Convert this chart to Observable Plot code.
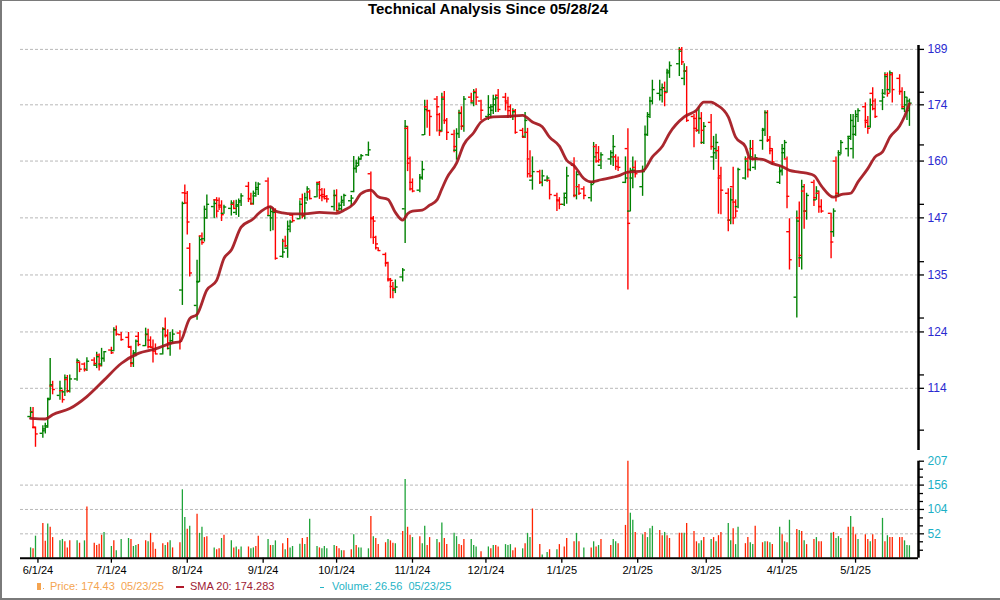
<!DOCTYPE html>
<html>
<head>
<meta charset="utf-8">
<script src="https://cdn.jsdelivr.net/npm/d3@7"></script>
<script src="https://cdn.jsdelivr.net/npm/@observablehq/plot@0.6"></script>
<style>
  html, body { margin: 0; padding: 0; background: #fff; }
  #wrap { position: relative; width: 1000px; height: 600px; overflow: hidden; font-family: "Liberation Sans", Arial, sans-serif; }
  #wrap > div.abs, #wrap > svg { position: absolute; }
  .frame { position: absolute; left: 0; top: 0; width: 1000px; height: 600px; box-sizing: border-box;
           border-left: 2px solid #7a7a7a; border-top: 1px solid #7a7a7a; border-bottom: 2px solid #7a7a7a; pointer-events: none; }
  #title { position: absolute; left: 0; top: 0; width: 976px; text-align: center; font-weight: bold; font-size: 15px; line-height: 18px; color: #000; }
  .leg { position: absolute; top: 580px; font-size: 11px; line-height: 13px; white-space: pre; }
</style>
</head>
<body>
<div id="wrap">
  <div id="title">Technical Analysis Since 05/28/24</div>
  <div class="frame"></div>
</div>
<script>
// ---------------- data ----------------
const xDomain = ["2024-05-24T21:00:00Z", "2025-05-26T17:00:00Z"];
const firstDay = "2024-05-29", lastDay = "2025-05-23";
const holidays = ["2024-06-19","2024-07-04","2024-09-02","2024-11-28","2024-12-25",
                  "2025-01-01","2025-01-09","2025-01-20","2025-02-17","2025-04-18"];

// [open, high, low, close] for each trading day
const ohlc = [
  // May 2024
  [109.3,110.8,108.9,110.0],[110.1,110.8,107.4,107.6],[107.5,107.6,104.4,106.5],
  // June 2024
  [106.6,107.8,105.8,107.3],[107.0,108.2,106.5,107.6],[107.8,112.3,107.4,112.1],[112.3,119.2,112.0,114.6],[114.4,115.2,112.9,113.8],
  [112.8,115.2,112.0,114.0],[113.6,113.7,111.5,112.1],[113.4,116.3,112.6,115.8],[115.5,116.2,113.2,113.5],[113.6,116.3,113.2,115.6],
  [115.6,119.1,115.2,118.8],[118.5,118.6,116.7,117.3],[118.2,118.4,116.8,117.2],[117.3,119.3,116.9,118.7],
  [118.9,119.3,117.9,118.3],[118.0,120.3,117.4,119.5],[119.8,120.0,117.0,117.9],[118.2,121.0,117.7,119.2],[119.2,120.4,118.5,120.4],
  // July 2024
  [120.7,121.2,119.9,120.2],[120.6,124.8,120.4,124.4],[124.4,125.1,123.2,123.6],[123.5,123.9,122.3,122.6],
  [123.0,123.9,121.1,121.2],[121.3,121.4,117.6,118.3],[118.4,120.6,117.6,120.2],[120.0,122.5,119.5,122.3],[123.2,123.9,121.3,121.7],
  [121.5,124.7,121.3,123.6],[123.5,124.5,120.9,121.3],[122.5,123.1,121.0,121.2],[121.2,122.5,118.4,120.5],[120.9,121.8,119.9,120.0],
  [120.0,124.8,119.8,124.5],[124.6,126.6,122.9,123.3],[123.4,124.4,120.7,122.0],[121.0,123.9,119.6,122.4],[122.0,124.4,121.8,123.6],
  [123.8,124.2,120.7,122.3],[132.0,150.5,129.0,150.2],[152.6,154.4,150.0,150.3],
  // August 2024
  [152.5,152.9,143.3,146.1],[140.5,141.5,134.6,135.4],
  [129.0,138.0,126.2,133.6],[133.7,143.0,133.5,142.3],[143.1,143.7,141.1,141.7],[142.5,149.6,141.8,148.9],[147.0,152.1,146.7,150.0],
  [149.5,151.0,146.8,150.2],[151.0,151.5,147.0,148.5],[150.9,151.4,148.6,149.4],[149.8,150.8,146.2,147.7],[148.0,149.8,147.8,149.4],
  [149.1,150.8,147.4,150.3],[150.0,150.8,148.8,149.1],[148.2,150.9,147.5,149.9],[149.6,151.2,147.1,150.8],[150.5,152.4,149.5,151.9],
  [154.1,155.0,150.4,151.2],[151.3,152.5,149.8,150.1],[150.2,153.0,149.8,152.5],[151.9,155.0,151.6,153.8],[153.4,154.9,152.0,154.6],
  // September 2024
  [155.3,156.0,147.3,149.4],[147.5,149.4,144.0,148.4],[147.0,149.2,144.2,148.2],[148.4,149.0,138.0,138.4],
  [138.8,142.4,138.4,139.7],[142.0,143.0,140.6,141.0],[140.5,146.3,138.4,145.2],[144.5,146.5,143.8,146.1],[147.6,147.8,145.9,146.4],
  [146.8,150.8,146.6,150.0],[151.2,152.3,146.8,147.4],[147.5,152.5,146.6,150.3],[151.5,154.0,150.7,153.5],[152.8,153.2,151.0,151.3],
  [151.7,154.9,151.5,154.6],[155.0,155.2,151.1,152.0],[153.3,153.6,150.6,151.7],[152.2,153.5,151.0,151.3],[151.8,152.0,150.3,151.2],
  [149.5,153.2,148.5,152.0],
  // October 2024
  [152.0,153.3,148.4,148.5],[148.6,150.3,148.5,149.8],[149.0,151.8,148.5,150.9],[150.5,152.3,149.5,152.0],
  [150.8,152.0,149.5,151.4],[152.9,161.1,152.6,158.3],[158.2,160.2,157.1,159.5],[158.8,161.0,158.7,160.5],[160.5,161.6,160.2,161.3],
  [161.5,164.6,161.1,162.7],[157.0,157.4,142.5,146.8],[147.0,147.3,141.3,146.3],[142.8,143.0,140.1,141.4],[140.6,140.6,139.8,140.0],
  [139.2,139.5,136.6,137.5],[137.4,137.6,133.6,134.0],[134.2,134.3,130.3,133.9],[132.7,133.5,130.3,132.3],[132.0,134.0,131.3,132.6],
  [134.6,136.3,133.6,136.0],[149.0,170.0,141.5,168.5],[168.0,168.5,157.5,160.6],[159.5,161.0,153.0,153.5],
  // November 2024
  [155.0,155.8,152.6,153.0],
  [153.2,156.8,152.6,156.2],[156.0,159.9,155.5,158.0],[166.4,175.2,166.2,172.8],[173.5,175.2,168.0,172.5],[172.5,172.6,166.0,171.0],
  [175.5,176.2,167.1,173.5],[171.5,171.8,166.0,167.2],[167.5,177.0,167.0,175.5],[176.0,177.5,169.0,170.0],[170.0,170.5,165.0,167.0],
  [166.5,167.5,162.0,163.5],[162.6,167.9,160.2,166.7],[166.7,172.6,165.5,171.8],[172.0,173.5,167.5,168.6],[168.5,176.2,167.0,175.5],
  [176.0,177.0,174.5,175.0],[174.5,178.0,173.5,177.2],[177.5,178.2,173.8,176.0],[175.0,175.2,170.0,172.6],
  // December 2024
  [171.0,176.4,170.0,173.3],[171.5,174.0,170.5,173.5],[172.6,176.5,171.5,175.5],[174.0,176.5,172.0,175.8],[176.5,178.0,172.0,172.8],
  [176.0,177.0,172.4,174.5],[175.0,176.0,170.5,172.5],[173.5,174.0,170.5,171.0],[171.0,173.0,170.0,172.2],[172.5,172.8,166.5,167.0],
  [167.5,168.0,165.5,165.8],[166.0,172.0,165.5,170.0],[167.0,168.0,156.0,157.0],[160.5,162.5,156.0,156.5],[155.5,161.0,153.2,157.5],
  [157.5,157.8,154.5,155.0],[155.0,157.8,154.0,156.5],[155.5,156.5,155.0,156.0],[155.5,155.5,151.0,152.2],
  [152.0,152.5,148.4,150.8],[151.0,151.5,148.8,150.0],
  // January 2025
  [150.0,152.3,149.5,151.5],[152.5,158.5,150.0,156.5],
  [159.0,160.8,151.5,152.0],[152.0,157.5,151.0,156.8],[154.0,154.5,152.0,152.5],[153.5,154.0,151.0,152.0],
  [151.5,155.0,150.5,154.5],[155.0,164.5,154.5,161.0],[163.5,164.0,159.5,160.0],[162.0,163.5,159.5,160.3],[159.0,162.0,158.0,161.5],
  [160.5,162.5,159.0,162.0],[161.0,166.2,158.7,163.5],[161.0,161.5,157.8,158.7],[160.0,161.0,157.5,158.5],
  [155.0,161.0,154.7,156.0],[163.0,167.9,132.0,145.8],[148.5,158.3,148.3,157.8],[156.0,161.0,153.5,157.8],[158.5,160.0,156.0,157.0],
  // February 2025
  [154.0,158.8,151.8,157.5],[158.0,168.6,157.8,166.4],[166.5,172.0,166.0,171.5],[171.0,176.0,170.5,175.0],[175.0,180.5,174.0,178.0],
  [177.0,180.5,175.0,178.0],[176.5,179.5,174.5,178.5],[178.5,180.0,173.5,177.2],[177.5,183.5,177.0,183.0],[182.5,185.5,181.0,184.5],
  [185.0,189.5,181.5,188.5],[189.0,189.5,184.5,185.5],[181.0,185.0,179.0,183.0],[183.0,184.2,169.5,170.0],
  [171.0,171.5,163.2,168.0],[170.5,172.5,167.0,167.5],[167.5,173.5,166.5,170.5],[170.5,172.0,164.0,167.5],[164.5,169.5,164.0,168.5],
  // March 2025
  [169.5,171.5,162.6,163.5],[161.0,166.0,157.8,163.0],[162.0,166.5,160.4,164.5],[162.5,163.5,147.8,156.5],[156.0,158.5,147.7,153.2],
  [152.5,153.5,144.0,146.5],[146.5,153.5,145.5,151.0],[154.0,158.5,145.5,147.0],[150.5,151.0,147.0,148.5],[149.5,158.3,149.0,158.0],
  [156.0,161.0,155.5,160.0],[160.5,161.0,156.0,158.0],[158.0,165.0,157.5,161.0],[163.0,165.0,160.0,160.5],[158.5,161.5,157.8,160.8],
  [165.0,168.0,162.6,167.8],[167.5,172.5,166.0,172.0],[172.0,172.5,164.5,165.2],[165.0,166.0,161.5,163.0],[162.5,163.0,159.0,159.8],
  [155.0,158.8,154.5,157.8],
  // April 2025
  [157.5,164.0,156.5,163.0],[162.0,165.0,160.5,164.5],[160.5,161.0,149.0,151.8],[144.0,146.8,136.0,138.1],
  [130.6,148.5,126.6,146.3],[147.0,150.5,136.5,139.0],[138.5,155.5,136.0,154.0],[153.0,154.5,144.5,148.5],[148.5,152.5,146.5,152.0],
  [155.0,155.5,149.5,151.5],[151.0,154.0,150.9,153.0],[152.5,153.0,148.0,149.5],[149.5,151.0,148.0,148.5],
  [148.0,148.0,138.3,141.8],[144.0,149.0,142.8,148.5],[160.0,161.0,150.5,152.5],[152.0,162.5,151.5,161.5],[162.0,165.0,161.5,164.5],
  [163.0,166.0,161.0,165.5],[166.0,171.5,165.0,170.0],[163.0,171.5,160.5,168.5],
  // May 2025
  [166.5,172.5,166.0,171.5],[171.0,173.0,169.5,172.5],
  [173.5,174.5,168.0,169.5],[170.0,171.0,166.5,168.0],[168.5,175.5,168.0,174.0],[177.0,178.5,172.5,173.0],[175.0,175.5,170.5,171.0],
  [175.0,178.0,172.5,176.0],[177.0,182.5,176.5,181.5],[182.0,182.5,176.0,177.0],[178.0,183.0,177.0,182.5],[182.0,182.5,174.5,178.0],
  [181.0,182.0,176.5,177.5],[177.5,178.5,173.0,173.5],[173.0,177.5,172.0,176.0],[174.0,176.0,170.0,175.0],[172.5,175.5,168.5,174.43]
];

const volume = [
  22,20,47,
  74,36,73,66,44,37,40,35,22,37,37,32,37,109,32,27,30,49,55,
  25,37,16,40,42,40,25,27,29,37,35,53,33,19,31,27,33,37,22,33,146,87,
  62,68,94,53,66,44,46,22,18,20,42,49,37,22,24,18,24,24,20,22,25,47,
  40,27,27,37,31,18,42,22,25,30,42,29,44,83,25,22,20,25,20,27,
  25,20,16,16,18,50,27,22,22,20,89,46,42,29,33,40,37,32,31,57,168,66,49,
  44,46,31,68,27,44,40,33,75,42,29,53,46,29,27,40,40,27,24,14,
  24,20,27,27,24,29,27,29,16,22,20,31,53,44,105,29,7,12,18,18,29,
  24,42,35,53,35,22,22,35,24,27,40,27,40,35,31,70,207,96,81,55,
  50,55,44,63,68,59,48,55,48,42,53,53,53,74,57,35,31,37,44,
  40,44,35,48,55,74,37,63,29,66,31,44,33,29,68,33,35,35,33,29,66,
  50,35,33,81,61,59,57,37,29,40,44,35,35,53,55,42,46,42,66,89,66,
  50,40,50,40,35,50,40,85,35,48,44,44,44,44,37,27,26.56
];

// volume bar colour per day: g = green, r = red
const volumeColour = [
  "grg", "rrgrrggrrrgrgrrrrrg", "grgggrggrrgrrrrgrgrrgg", "rgrggrrgrrgrgrgrgrggrr",
  "grggrgrgggrgrggrgggg", "rrgrrgrgggrgrrrgrrgrgrr", "grggrrgrgrrggrrrgggr",
  "grgrrgggrrgrggrrggrgr", "rrrgrgrgrgrrggrrrggr", "grgggrrgrrrrgrrrggr",
  "grgrrggrggrrggrrgrgrg", "rgrgrgrgrrgrrgrggrrgr", "rgrrgrrgrgrrrrggg"
].join("");

const smaDates = [
  "2024-05-29","2024-06-04","2024-06-07","2024-06-14","2024-06-21","2024-06-28","2024-07-05","2024-07-12","2024-07-19",
  "2024-07-26","2024-07-29","2024-08-02","2024-08-05","2024-08-09","2024-08-13","2024-08-16","2024-08-19","2024-08-23",
  "2024-08-28","2024-08-30","2024-09-04","2024-09-06","2024-09-09","2024-09-13","2024-09-18","2024-09-24","2024-10-01",
  "2024-10-04","2024-10-08","2024-10-11","2024-10-15","2024-10-18","2024-10-22","2024-10-25","2024-10-28","2024-10-30",
  "2024-11-01","2024-11-05","2024-11-08","2024-11-11","2024-11-13","2024-11-15","2024-11-19","2024-11-22","2024-11-26",
  "2024-11-29","2024-12-04","2024-12-10","2024-12-16","2024-12-20","2024-12-24","2024-12-27","2024-12-31","2025-01-03",
  "2025-01-06","2025-01-10","2025-01-13","2025-01-17","2025-01-22","2025-01-24","2025-01-28","2025-02-03","2025-02-07",
  "2025-02-11","2025-02-14","2025-02-20","2025-02-25","2025-02-28","2025-03-03","2025-03-05","2025-03-10","2025-03-13",
  "2025-03-17","2025-03-19","2025-03-24","2025-03-28","2025-04-01","2025-04-04","2025-04-08","2025-04-14","2025-04-17",
  "2025-04-22","2025-04-25","2025-04-29","2025-05-02","2025-05-06","2025-05-09","2025-05-12","2025-05-15","2025-05-19",
  "2025-05-21","2025-05-23"
];
const smaValues = [
  109.0,108.9,109.6,110.6,112.6,115.4,118.3,120.1,120.9,
  122.0,122.2,126.5,127.3,132.0,133.9,138.4,140.1,145.0,
  146.8,147.9,149.5,148.5,148.1,147.9,147.9,148.2,148.0,
  148.7,150.1,152.4,153.2,151.7,151.1,148.2,146.5,147.9,
  148.5,148.7,149.8,151.0,153.5,156.0,159.5,164.0,166.9,
  169.6,170.9,171.0,171.3,169.6,168.4,165.8,163.6,160.2,
  158.9,155.9,155.1,155.6,156.2,156.5,157.4,157.6,161.0,
  163.5,166.8,170.9,172.6,174.7,174.7,174.1,170.9,165.8,
  163.5,160.6,160.4,159.4,158.7,157.8,157.4,156.6,154.2,
  151.6,152.2,152.5,155.1,158.2,161.0,162.2,165.8,168.6,
  171.0,174.28
];

const priceTicks = [114, 124, 135, 147, 160, 174, 189];
const priceMinorTicks = [107.1, 116.3, 126.6, 137.7, 150.0, 163.9, 177.3];
const volumeTicks = [52, 104, 156, 207];
const volumeGrid = [52, 104, 156];
const volumeMinorTicks = [17, 35, 69, 86, 121, 138, 173, 190];
const monthTicks = ["2024-06-01","2024-07-01","2024-08-01","2024-09-01","2024-10-01","2024-11-01","2024-12-01",
                    "2025-01-01","2025-02-01","2025-03-01","2025-04-01","2025-05-01"];

// ---------------- build ----------------
const fmtDay = d3.utcFormat("%Y-%m-%d");
const dates = d3.utcDay.range(new Date(firstDay), d3.utcDay.offset(new Date(lastDay), 1))
  .filter(d => d.getUTCDay() !== 0 && d.getUTCDay() !== 6 && !holidays.includes(fmtDay(d)));
if (dates.length !== ohlc.length || dates.length !== volume.length || dates.length !== volumeColour.length)
  console.error("length mismatch", dates.length, ohlc.length, volume.length, volumeColour.length);
const n = Math.min(dates.length, ohlc.length, volume.length, volumeColour.length);
const rows = d3.range(n).map(i => ({
  date: dates[i], open: ohlc[i][0], high: ohlc[i][1], low: ohlc[i][2], close: ohlc[i][3],
  volume: volume[i], volUp: volumeColour[i] === "g"
}));
rows.forEach(r => r.up = r.close >= r.open);
const sma = smaDates.map((d, i) => ({date: new Date(d), value: smaValues[i]}));

const GREEN = "#008000", RED = "#ff0000", VGREEN = "#1fa43a", VRED = "#ff2400";
const xd = xDomain.map(d => new Date(d));
const xEnd = xd[1];
const tickHalf = 27; // hours either side of the bar for open/close ticks
const font = '"Liberation Sans", Arial, sans-serif';
const baseStyle = {fontFamily: font, fontSize: "12px", background: "transparent", overflow: "visible", color: "#000"};

const priceChart = Plot.plot({
  width: 1000, height: 452,
  marginTop: 45, marginBottom: 2, marginLeft: 20, marginRight: 82,
  style: baseStyle,
  x: {type: "utc", domain: xd, axis: null},
  y: {type: "log", domain: [103.9, 190.1], axis: null},
  marks: [
    Plot.ruleY(priceTicks, {stroke: "#b8b8b8", strokeDasharray: "3,2", strokeWidth: 1}),
    Plot.ruleX(rows, {x: "date", y1: "low", y2: "high", stroke: d => d.up ? GREEN : RED, strokeWidth: 1.4}),
    Plot.ruleY(rows, {y: "open", x1: d => d3.utcHour.offset(d.date, -tickHalf), x2: "date", stroke: d => d.up ? GREEN : RED, strokeWidth: 1.4}),
    Plot.ruleY(rows, {y: "close", x1: "date", x2: d => d3.utcHour.offset(d.date, tickHalf), stroke: d => d.up ? GREEN : RED, strokeWidth: 1.4}),
    Plot.line(sma, {x: "date", y: "value", stroke: "#a3151c", strokeWidth: 2.8, strokeOpacity: 0.92, curve: "monotone-x"}),
    Plot.ruleX([xEnd], {stroke: "#000", strokeWidth: 2.5}),
    Plot.axisY(priceTicks, {anchor: "right", tickSize: 5, tickPadding: 4, stroke: "#000", strokeWidth: 1.3,
      fill: "#2a2ad0", fontSize: 12, tickFormat: d => String(d), label: null}),
    Plot.axisY(priceMinorTicks, {anchor: "right", tickSize: 5, stroke: "#000", strokeWidth: 1.3, tickFormat: () => "", label: null})
  ]
});

const volumeChart = Plot.plot({
  width: 1000, height: 160,
  marginTop: 20.7, marginBottom: 42.3, marginLeft: 20, marginRight: 82,
  style: baseStyle,
  x: {type: "utc", domain: xd, axis: null},
  y: {domain: [0, 207], axis: null},
  marks: [
    Plot.ruleY(volumeGrid, {stroke: "#b8b8b8", strokeDasharray: "3,2", strokeWidth: 1}),
    Plot.ruleX(rows, {x: "date", y1: 0, y2: "volume", stroke: d => d.volUp ? VGREEN : VRED, strokeWidth: 1.3}),
    Plot.ruleY([0], {stroke: "#000", strokeWidth: 2}),
    Plot.ruleX([xEnd], {stroke: "#000", strokeWidth: 2.5}),
    Plot.axisY(volumeTicks, {anchor: "right", tickSize: 5, tickPadding: 4, stroke: "#000", strokeWidth: 1.3,
      fill: "#1bb0c6", fontSize: 12, tickFormat: d => String(d), label: null}),
    Plot.axisY(volumeMinorTicks, {anchor: "right", tickSize: 4, stroke: "#000", strokeWidth: 1.3, tickFormat: () => "", label: null}),
    Plot.axisX(monthTicks.map(d => new Date(d)), {anchor: "bottom", tickSize: 5, tickPadding: 3, stroke: "#000", strokeWidth: 1.3,
      fill: "#000", fontSize: 11, tickFormat: d3.utcFormat("%-m/%-d/%y"), label: null})
  ]
});

const wrap = document.getElementById("wrap");
priceChart.style.position = "absolute"; priceChart.style.left = "0px"; priceChart.style.top = "0px";
volumeChart.style.position = "absolute"; volumeChart.style.left = "0px"; volumeChart.style.top = "440px";
wrap.insertBefore(priceChart, wrap.querySelector(".frame"));
wrap.insertBefore(volumeChart, wrap.querySelector(".frame"));

// legend (below the chart)
const lastRow = rows[rows.length - 1];
const legendItems = [
  {left: 50, color: "#f4a450", text: `Price: ${d3.format(".2f")(lastRow.close)}  ${d3.utcFormat("%m/%d/%y")(lastRow.date)}`},
  {left: 190, color: "#9e1b34", text: `SMA 20: ${d3.format(".3f")(174.283)}`},
  {left: 332, color: "#26b4c6", text: `Volume: ${d3.format(".2f")(lastRow.volume)}  ${d3.utcFormat("%m/%d/%y")(lastRow.date)}`}
];
const swatches = [
  {left: 37, top: 583, w: 4, h: 7, color: "#f4a450"},
  {left: 43, top: 588, w: 1, h: 1, color: "#f4a450"},
  {left: 176, top: 586, w: 8, h: 2, color: "#b0182a"},
  {left: 320, top: 587, w: 4, h: 1, color: "#26b4c6"}
];
for (const s of swatches) {
  const el = document.createElement("div");
  el.className = "abs";
  Object.assign(el.style, {position: "absolute", left: s.left + "px", top: s.top + "px", width: s.w + "px", height: s.h + "px", background: s.color});
  wrap.appendChild(el);
}
for (const it of legendItems) {
  const el = document.createElement("div");
  el.className = "leg";
  el.style.left = it.left + "px";
  el.style.color = it.color;
  el.textContent = it.text;
  wrap.appendChild(el);
}
</script>
</body>
</html>
